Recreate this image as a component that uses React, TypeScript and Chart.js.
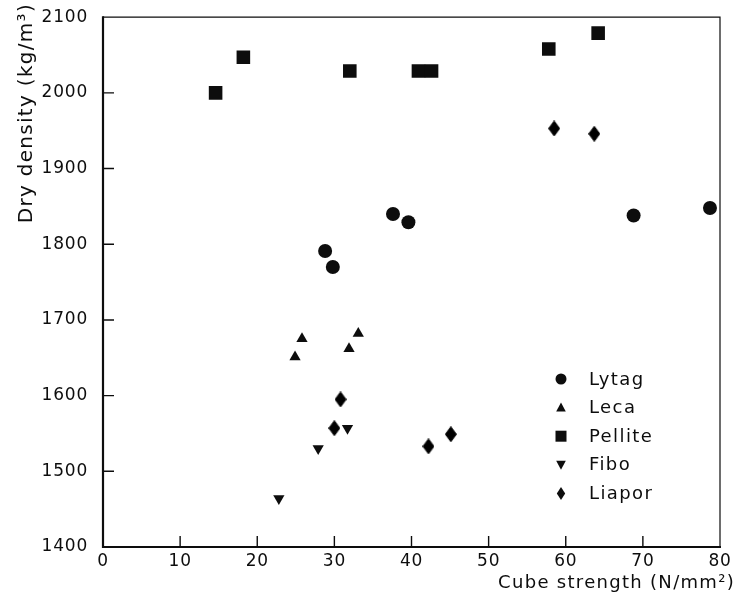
import React, { useEffect, useRef } from 'react';
import { Chart, registerables } from 'chart.js';

Chart.register(...registerables);

// ---------- data ----------
const SERIES_NAMES = ['Lytag', 'Leca', 'Pellite', 'Fibo', 'Liapor'];

const lytagX = [28.8, 29.8, 37.6, 39.6, 68.8, 78.7];
const lytagY = [1791, 1770, 1840, 1829, 1838, 1848];

const lecaX = [24.9, 25.8, 31.9, 33.1];
const lecaY = [1651, 1675, 1662, 1682];

const pelliteX = [14.6, 18.2, 32.0, 40.9, 42.6, 57.8, 64.2];
const pelliteY = [2000, 2047, 2029, 2029, 2029, 2058, 2079];

const fiboX = [22.8, 27.9, 31.7];
const fiboY = [1464, 1530, 1557];

const liaporX = [30.8, 30.0, 42.2, 45.1, 58.5, 63.7];
const liaporY = [1595, 1557, 1533, 1549, 1953, 1946];

const X_TICKS = [0, 10, 20, 30, 40, 50, 60, 70, 80];
const Y_TICKS = [1400, 1500, 1600, 1700, 1800, 1900, 2000, 2100];

const X_TITLE = 'Cube strength (N/mm\u00B2)';
const Y_TITLE = 'Dry density (kg/m\u00B3)';

// ---------- style ----------
const INK = '#0d0d0d';
const FONT = "'DejaVu Sans', sans-serif";

const pts = (xs: number[], ys: number[]) => xs.map((x, i) => ({ x, y: ys[i] }));

function makeDiamond(w: number, h: number): HTMLCanvasElement {
  const c = document.createElement('canvas');
  c.width = w;
  c.height = h;
  const g = c.getContext('2d')!;
  g.fillStyle = '#000';
  g.strokeStyle = '#000';
  g.lineWidth = 1;
  g.beginPath();
  g.moveTo(w / 2, 0.5);
  g.lineTo(w - 0.5, h / 2);
  g.lineTo(w / 2, h - 0.5);
  g.lineTo(0.5, h / 2);
  g.closePath();
  g.fill();
  g.stroke();
  return c;
}

type Kind = 'circle' | 'up' | 'square' | 'down' | 'diamond';
const LEGEND_KINDS: Kind[] = ['circle', 'up', 'square', 'down', 'diamond'];

function drawShape(ctx: CanvasRenderingContext2D, kind: Kind, x: number, y: number) {
  ctx.beginPath();
  if (kind === 'circle') {
    ctx.arc(x, y, 5.5, 0, Math.PI * 2);
  } else if (kind === 'up') {
    ctx.moveTo(x, y - 5);
    ctx.lineTo(x + 4.8, y + 4);
    ctx.lineTo(x - 4.8, y + 4);
  } else if (kind === 'down') {
    ctx.moveTo(x, y + 5);
    ctx.lineTo(x + 4.8, y - 4);
    ctx.lineTo(x - 4.8, y - 4);
  } else if (kind === 'square') {
    ctx.rect(x - 5.5, y - 5.5, 11, 11);
  } else {
    ctx.moveTo(x, y - 6.5);
    ctx.lineTo(x + 4.2, y);
    ctx.lineTo(x, y + 6.5);
    ctx.lineTo(x - 4.2, y);
  }
  ctx.closePath();
  ctx.fill();
}

const setSpacing = (chart: any) => {
  (chart.ctx as any).letterSpacing = '0.8px';
};

const framePlugin = {
  id: 'frameTicksTitlesLegend',
  beforeUpdate(chart: any) {
    setSpacing(chart);
  },
  beforeLayout(chart: any) {
    setSpacing(chart);
  },
  beforeDraw(chart: any) {
    setSpacing(chart);
  },
  beforeDatasetsDraw(chart: any) {
    const { ctx, chartArea: a, scales } = chart;
    ctx.save();
    ctx.strokeStyle = INK;
    // thin top / right frame
    ctx.lineWidth = 1.2;
    ctx.beginPath();
    ctx.moveTo(a.left, a.top);
    ctx.lineTo(a.right, a.top);
    ctx.lineTo(a.right, a.bottom);
    ctx.stroke();
    // heavy left / bottom axes
    ctx.lineWidth = 2.2;
    ctx.beginPath();
    ctx.moveTo(a.left, a.top - 1);
    ctx.lineTo(a.left, a.bottom);
    ctx.lineTo(a.right + 1, a.bottom);
    ctx.stroke();
    // inward ticks
    ctx.lineWidth = 1.4;
    ctx.beginPath();
    X_TICKS.slice(1, -1).forEach((v) => {
      const px = scales.x.getPixelForValue(v);
      ctx.moveTo(px, a.bottom);
      ctx.lineTo(px, a.bottom - 11);
    });
    Y_TICKS.slice(1, -1).forEach((v) => {
      const py = scales.y.getPixelForValue(v);
      ctx.moveTo(a.left, py);
      ctx.lineTo(a.left + 11, py);
    });
    ctx.stroke();
    ctx.restore();
  },
  afterDraw(chart: any) {
    const { ctx } = chart;
    ctx.save();
    ctx.fillStyle = INK;

    // x axis title (right aligned under the axis)
    (ctx as any).letterSpacing = '1.3px';
    ctx.font = `18px ${FONT}`;
    ctx.textAlign = 'right';
    ctx.textBaseline = 'alphabetic';
    ctx.fillText(X_TITLE, 735, 588);

    // y axis title (rotated, aligned to the top)
    ctx.save();
    (ctx as any).letterSpacing = '1.3px';
    ctx.font = `20px ${FONT}`;
    ctx.translate(32, 3);
    ctx.rotate(-Math.PI / 2);
    ctx.textAlign = 'right';
    ctx.textBaseline = 'alphabetic';
    ctx.fillText(Y_TITLE, 0, 0);
    ctx.restore();

    // legend inside the plot
    (ctx as any).letterSpacing = '1.4px';
    ctx.font = `18px ${FONT}`;
    ctx.textAlign = 'left';
    ctx.textBaseline = 'middle';
    const labels = chart.data.datasets.map((d: any) => d.label);
    labels.forEach((lab: string, i: number) => {
      const y = 379 + i * 28.6;
      drawShape(ctx, LEGEND_KINDS[i], 561, y);
      ctx.fillText(lab, 589, y + 1);
    });
    ctx.restore();
  },
};

export default function App() {
  const ref = useRef<HTMLCanvasElement | null>(null);

  useEffect(() => {
    if (!ref.current) return;
    const diamond = makeDiamond(12, 16);
    const base = {
      backgroundColor: INK,
      borderColor: INK,
      borderWidth: 0,
      showLine: false,
    };
    const chart = new Chart(ref.current, {
      type: 'scatter',
      data: {
        datasets: [
          { ...base, label: SERIES_NAMES[0], data: pts(lytagX, lytagY), pointStyle: 'circle', pointRadius: 7 },
          { ...base, label: SERIES_NAMES[1], data: pts(lecaX, lecaY), pointStyle: 'triangle', pointRadius: 6.5 },
          { ...base, label: SERIES_NAMES[2], data: pts(pelliteX, pelliteY), pointStyle: 'rect', pointRadius: 9.6 },
          { ...base, label: SERIES_NAMES[3], data: pts(fiboX, fiboY), pointStyle: 'triangle', pointRotation: 180, pointRadius: 6.5 },
          { ...base, label: SERIES_NAMES[4], data: pts(liaporX, liaporY), pointStyle: diamond as any, pointRadius: 8 },
        ] as any,
      },
      options: {
        animation: false,
        responsive: false,
        devicePixelRatio: 1,
        layout: { padding: { top: 16, right: 14, left: 0, bottom: 0 } },
        plugins: {
          legend: { display: false },
          tooltip: { enabled: false },
          title: { display: false },
        },
        scales: {
          x: {
            type: 'linear',
            min: 0,
            max: 80,
            grid: { display: false },
            border: { display: false },
            ticks: {
              stepSize: 10,
              color: INK,
              padding: -4,
              font: { family: FONT, size: 17 },
              maxRotation: 0,
              callback: (v: any) => String(v),
            },
            afterBuildTicks: (s: any) => {
              s.ticks = X_TICKS.map((v) => ({ value: v }));
            },
            afterFit: (s: any) => {
              s.height = 52;
            },
          },
          y: {
            type: 'linear',
            min: 1400,
            max: 2100,
            grid: { display: false },
            border: { display: false },
            ticks: {
              stepSize: 100,
              color: INK,
              padding: 7,
              font: { family: FONT, size: 17 },
              callback: (v: any) => String(v),
            },
            afterBuildTicks: (s: any) => {
              s.ticks = Y_TICKS.map((v) => ({ value: v }));
            },
            afterFit: (s: any) => {
              s.width = 103;
            },
          },
        },
      } as any,
      plugins: [framePlugin],
    });
    return () => chart.destroy();
  }, []);

  return (
    <div style={{ position: 'absolute', left: 0, top: 0, width: 734, height: 599, background: '#fff' }}>
      <canvas ref={ref} width={734} height={599} style={{ display: 'block', width: 734, height: 599 }} />
    </div>
  );
}
